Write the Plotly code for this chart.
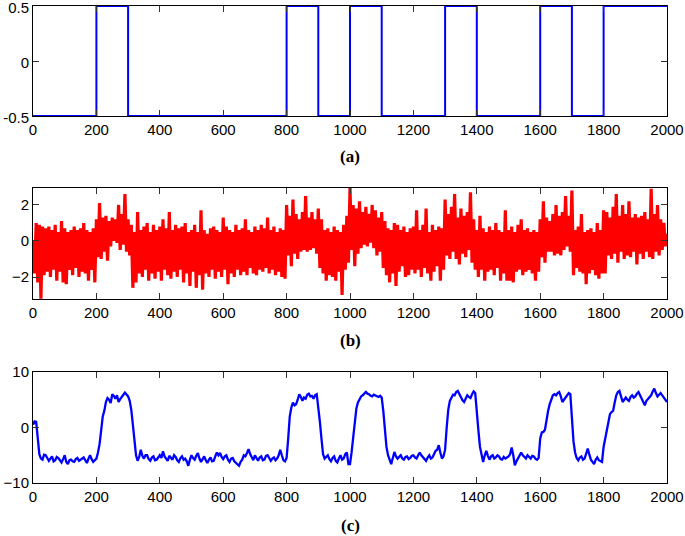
import plotly.graph_objects as go

# ---- data ----
sample_idx = list(range(0, 2001, 5))

# (a) square wave: step corners
step_x = [0, 200, 200, 300, 300, 800, 800, 900, 900, 1000, 1000, 1100, 1100,
          1300, 1300, 1400, 1400, 1600, 1600, 1700, 1700, 1800, 1800, 2000]
step_y = [-0.5, -0.5, 0.5, 0.5, -0.5, -0.5, 0.5, 0.5, -0.5, -0.5, 0.5, 0.5, -0.5,
          -0.5, 0.5, 0.5, -0.5, -0.5, 0.5, 0.5, -0.5, -0.5, 0.5, 0.5]

# (b) noisy observation (read every 5 samples, one row per 100 samples)
noisy = [
    0.0, -1.8, 1.0, -2.3, 0.9, -3.2, 0.8, -1.9, 0.7, -1.7, 0.8, -2.0, 0.6, -1.6, 0.9, -2.2, 0.5, -1.7, 1.1, -2.3,
    0.7, -2.4, 0.5, -1.6, 0.6, -1.9, 0.8, -1.5, 0.6, -2.0, 0.7, -1.7, 1.0, -1.8, 0.6, -2.2, 0.5, -1.6, 0.7, -2.3,
    1.2, -0.9, 2.1, -1.0, 1.3, -0.6, 1.4, -1.1, 1.1, -0.3, 1.3, 0.0, 1.2, -0.1, 2.0, -0.5, 1.5, -0.2, 2.6, -0.6,
    1.2, -0.8, 0.9, -2.6, 0.5, -2.3, 1.6, -1.8, 0.6, -2.0, 0.8, -1.6, 1.0, -2.2, 0.5, -1.8, 0.9, -2.1, 0.6, -1.7,
    0.8, -2.2, 1.2, -1.6, 0.7, -1.9, 1.6, -2.1, 0.6, -1.7, 0.9, -2.0, 0.7, -1.6, 0.8, -2.3, 1.0, -1.8, 0.5, -2.5,
    0.6, -1.7, 0.9, -2.6, 0.5, -1.9, 1.7, -2.7, 0.6, -1.8, 0.4, -2.0, 0.7, -1.6, 0.8, -2.1, 0.6, -1.7, 0.5, -2.0,
    1.3, -1.6, 0.8, -2.4, 0.6, -1.8, 0.5, -2.0, 0.9, -1.6, 0.6, -1.9, 0.7, -1.7, 1.2, -1.9, 0.6, -1.5, 0.5, -1.8,
    0.8, -1.9, 0.6, -1.6, 0.9, -1.7, 0.7, -1.5, 1.3, -1.8, 0.6, -1.6, 0.8, -1.9, 0.5, -1.7, 0.7, -2.0, 0.6, -2.1,
    2.0, -0.8, 1.4, -1.4, 2.3, -0.7, 1.5, -1.0, 1.2, -0.6, 1.6, -0.5, 2.5, -0.6, 1.3, -0.5, 1.6, -0.4, 1.2, -0.7,
    1.8, -1.5, 1.2, -1.8, 0.6, -2.2, 0.7, -1.9, 0.5, -2.0, 0.8, -2.2, 0.6, -1.7, 0.5, -3.0, 0.9, -1.6, 1.4, -1.2,
    2.95, -0.5, 2.0, -1.4, 1.8, -0.7, 2.2, -0.4, 1.6, -0.2, 1.9, -0.3, 1.5, -0.1, 2.0, -0.4, 1.7, -0.8, 1.3, -0.6,
    1.6, -1.5, 1.1, -1.9, 0.7, -2.3, 0.6, -1.8, 1.0, -2.5, 0.9, -1.7, 0.6, -1.4, 0.8, -2.0, 0.5, -1.9, 0.7, -1.6,
    0.8, -1.8, 1.7, -1.6, 0.6, -2.0, 0.9, -1.5, 1.8, -1.8, 0.5, -2.2, 0.9, -1.7, 0.6, -1.4, 0.8, -2.2, 0.7, -1.6,
    2.3, -0.8, 1.5, -1.0, 1.9, -0.6, 2.6, -1.0, 1.3, -1.3, 1.8, -0.7, 1.4, -0.9, 1.6, -0.5, 2.7, -1.2, 1.2, -1.6,
    0.6, -2.0, 1.4, -1.6, 0.7, -2.2, 0.5, -1.7, 0.8, -1.6, 0.6, -1.9, 1.0, -1.5, 0.6, -2.2, 0.5, -1.8, 1.7, -2.2,
    0.6, -2.2, 0.8, -2.3, 0.5, -1.7, 0.9, -1.6, 1.2, -1.9, 0.6, -1.7, 0.7, -1.6, 0.5, -1.8, 0.6, -2.2, 0.5, -1.7,
    1.2, -0.9, 2.2, -1.2, 1.3, -0.6, 1.1, -0.6, 1.5, -0.8, 2.0, -0.7, 1.4, -0.8, 1.6, -0.5, 2.5, -0.3, 1.4, -0.6,
    2.8, -1.9, 0.6, -1.5, 0.8, -1.7, 1.5, -1.8, 0.5, -2.4, 0.6, -1.8, 0.7, -1.6, 0.5, -1.9, 1.0, -2.1, 0.6, -1.8,
    1.7, -1.8, 1.6, -0.8, 1.3, -1.0, 1.9, -0.7, 2.6, -1.2, 1.4, -0.6, 2.0, -1.0, 1.5, -0.8, 2.2, -0.9, 1.3, -0.6,
    1.5, -1.3, 1.3, -0.7, 1.4, -1.0, 1.6, -0.6, 1.2, -0.9, 2.9, -1.0, 1.5, -0.6, 2.0, -0.8, 1.2, -0.5, 1.0, -0.3,
    0.4,
]

# (c) filtered estimate (read every 5 samples, one row per 100 samples)
filtered = [
    0.5, 1.1, 1.0, -2.0, -4.8, -5.6, -5.8, -4.9, -5.0, -5.5, -6.0, -5.6, -5.2, -6.1, -5.9, -5.3, -5.5, -5.9, -6.3, -5.7,
    -5.0, -6.2, -6.6, -5.9, -5.8, -6.1, -6.2, -5.7, -5.5, -6.0, -5.8, -5.5, -5.4, -5.9, -6.4, -5.6, -5.0, -5.7, -6.2, -5.9,
    -5.6, -4.5, -3.0, -0.5, 2.0, 3.0, 4.6, 5.3, 5.0, 4.4, 6.0, 5.7, 5.2, 5.8, 4.6, 5.1, 5.6, 5.9, 6.3, 6.0,
    5.6, 4.8, 3.2, 0.5, -2.5, -5.0, -6.0, -5.3, -4.0, -5.1, -5.6, -5.0, -5.0, -5.7, -6.0, -5.4, -5.2, -5.9, -5.8, -5.3,
    -5.0, -5.5, -4.3, -5.2, -5.6, -6.0, -5.1, -5.4, -5.8, -5.0, -5.3, -5.9, -6.2, -5.5, -5.2, -5.8, -5.6, -6.1, -6.9, -5.8,
    -5.0, -5.5, -5.8, -5.1, -4.6, -5.6, -6.2, -5.7, -5.2, -5.9, -6.4, -5.8, -5.4, -6.1, -6.0, -5.2, -4.5, -5.0, -4.6, -5.3,
    -5.7, -5.2, -5.0, -5.8, -6.2, -5.6, -5.5, -6.1, -6.4, -6.6, -6.9, -6.2, -5.8, -5.0, -5.2, -4.6, -3.9, -4.8, -5.4, -5.9,
    -5.0, -5.6, -6.0, -5.4, -5.2, -5.9, -5.8, -5.1, -5.0, -5.5, -6.0, -5.6, -5.4, -5.9, -5.6, -5.0, -4.0, -5.0, -5.9, -6.1,
    -5.5, -2.0, 2.0, 3.6, 4.5, 4.0, 4.2, 5.0, 6.0, 5.5, 4.8, 5.4, 5.2, 5.9, 6.1, 5.6, 5.7, 5.2, 5.8, 6.0,
    3.8, 1.0, -2.0, -4.8, -5.6, -5.2, -5.0, -5.7, -6.1, -5.5, -5.2, -6.0, -6.3, -5.6, -5.0, -5.8, -5.6, -4.8, -4.5, -6.6,
    -6.6, -4.5, -1.8, 1.0, 3.4, 4.5, 5.2, 5.6, 5.8, 6.2, 6.4, 6.1, 6.0, 5.7, 5.6, 5.9, 5.8, 5.6, 5.5, 5.7,
    5.4, 3.0, -0.5, -3.5, -5.0, -6.0, -6.6, -5.5, -4.4, -5.2, -5.6, -5.3, -5.0, -5.6, -5.8, -5.3, -5.2, -5.7, -5.5, -5.1,
    -5.0, -5.4, -5.6, -5.0, -4.5, -5.0, -5.3, -5.7, -6.0, -5.4, -5.0, -5.6, -5.4, -4.8, -4.2, -4.0, -3.2, -4.5, -5.6, -5.2,
    -4.0, 0.0, 3.2, 4.8, 5.5, 5.9, 5.8, 6.4, 6.6, 6.0, 5.5, 4.9, 4.6, 5.3, 5.8, 5.5, 5.3, 6.0, 6.5, 6.2,
    2.2, -0.5, -3.5, -5.2, -6.2, -5.0, -4.2, -5.1, -5.8, -5.2, -5.0, -5.6, -5.4, -5.0, -5.2, -5.7, -5.8, -5.3, -5.6, -5.4,
    -5.2, -4.8, -3.6, -5.0, -6.8, -6.1, -5.6, -5.0, -4.5, -5.0, -5.3, -5.6, -5.0, -5.4, -5.6, -5.1, -5.2, -5.6, -5.8, -5.5,
    -2.0, -0.9, -0.8, -0.4, 1.5, 3.0, 4.2, 5.2, 5.8, 6.0, 5.8, 6.2, 6.4, 5.6, 4.6, 5.0, 5.4, 5.9, 6.2, 6.0,
    1.0, -2.5, -4.5, -5.5, -5.9, -5.4, -5.2, -5.8, -5.6, -4.8, -3.8, -4.9, -5.8, -6.2, -6.6, -5.8, -5.4, -5.9, -6.0, -6.2,
    -3.5, -2.0, -1.2, 0.5, 2.4, 2.8, 3.0, 4.5, 5.8, 6.4, 6.6, 5.6, 4.6, 5.0, 5.4, 5.0, 4.8, 5.5, 5.8, 5.4,
    5.6, 6.1, 6.4, 5.8, 5.2, 4.6, 4.0, 4.8, 5.2, 5.5, 5.8, 6.5, 7.0, 6.2, 5.6, 5.9, 6.2, 5.8, 5.4, 5.0,
    4.6,
]

x_ticks = [0, 200, 400, 600, 800, 1000, 1200, 1400, 1600, 1800, 2000]
ya_ticks = [-0.5, 0, 0.5]
ya_labels = ["-0.5", "0", "0.5"]
yb_ticks = [-2, 0, 2]
yc_ticks = [-10, 0, 10]
panel_labels = ["(a)", "(b)", "(c)"]

# ---- figure ----
fig = go.Figure()
fig.add_trace(go.Scatter(x=step_x, y=step_y, mode="lines",
                         line=dict(color="#0000FF", width=2), xaxis="x", yaxis="y"))
fig.add_trace(go.Scatter(x=sample_idx, y=noisy, mode="lines",
                         line=dict(color="#FF0000", width=3.2), xaxis="x2", yaxis="y2"))
fig.add_trace(go.Scatter(x=sample_idx, y=filtered, mode="lines",
                         line=dict(color="#0000FF", width=2.3), xaxis="x3", yaxis="y3"))

tickfont = dict(family="Liberation Sans, Arial, sans-serif", size=15, color="black")
common_x = dict(range=[0, 2000], tickmode="array", tickvals=x_ticks,
                ticks="inside", ticklen=6, tickcolor="#333", mirror="allticks",
                showline=True, linecolor="black", linewidth=1, showgrid=False,
                zeroline=False, tickfont=tickfont, automargin=False,
                ticklabeloverflow="allow")
common_y = dict(ticks="inside", ticklen=6, tickcolor="#333", mirror="allticks",
                showline=True, linecolor="black", linewidth=1, showgrid=False,
                zeroline=False, tickfont=tickfont, tickmode="array", automargin=False,
                ticklabeloverflow="allow")

H = 477.0  # plot area height in px (top 6 .. bottom 483)
def py(px):
    return (483 - px) / H

fig.update_layout(
    width=685, height=536,
    margin=dict(l=33, r=18, t=6, b=53),
    paper_bgcolor="white", plot_bgcolor="white",
    showlegend=False,
    xaxis=dict(common_x, anchor="y"),
    xaxis2=dict(common_x, anchor="y2"),
    xaxis3=dict(common_x, anchor="y3"),
    yaxis=dict(common_y, domain=[py(116), 1.0], range=[-0.5, 0.5],
               tickvals=ya_ticks, ticktext=ya_labels, anchor="x", ticklabelshift=2),
    yaxis2=dict(common_y, domain=[py(299), py(188)], range=[-3.22, 2.94],
                tickvals=yb_ticks, anchor="x2"),
    yaxis3=dict(common_y, domain=[0.0, py(372)], range=[-10, 10],
                tickvals=yc_ticks, anchor="x3"),
)

label_y = [156, 340, 525]
for lab, ypx in zip(panel_labels, label_y):
    fig.add_annotation(text="<b>%s</b>" % lab, xref="paper", yref="paper",
                       x=0.5, y=py(ypx), xanchor="center", yanchor="middle",
                       showarrow=False,
                       font=dict(family="Liberation Serif, Times New Roman, serif",
                                 size=17, color="black"))

fig.write_html("out.html", config={"displayModeBar": False},
               post_script="document.body.style.margin='0';document.body.style.overflow='hidden';")
